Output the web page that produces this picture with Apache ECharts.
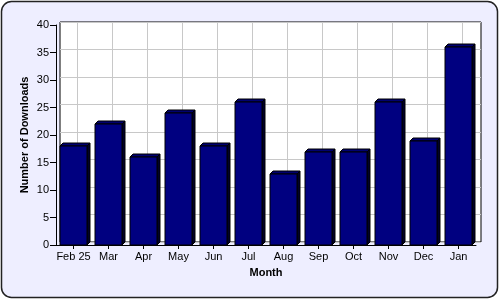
<!DOCTYPE html>
<html><head><meta charset="utf-8">
<script src="https://cdn.jsdelivr.net/npm/echarts@6/dist/echarts.min.js"></script>
<style>html,body{margin:0;padding:0;background:#fff}#c{width:500px;height:300px}</style>
</head><body><div id="c"></div>
<script>
const categories = ['Feb 25','Mar','Apr','May','Jun','Jul','Aug','Sep','Oct','Nov','Dec','Jan'];
const downloads = [18,22,16,24,18,26,13,17,17,26,19,36];
const yMin = 0, yMax = 40, yStep = 5;
const xTitle = 'Month', yTitle = 'Number of Downloads';

const FONT = '"Liberation Sans", Arial, sans-serif';
const chart = echarts.init(document.getElementById('c'), null, {renderer:'canvas'});
const depth = 3;
chart.setOption({
  backgroundColor: 'transparent',
  animation: false,
  graphic: [{type:'rect', z:-10, silent:true, shape:{x:1.5,y:1.5,width:496,height:296,r:10},
    style:{fill:'#EEEEFF', stroke:'#222', lineWidth:1.5}}],
  grid: [
    {left:60, right:19, top:22, bottom:58, show:true, backgroundColor:'#fff', borderColor:'#000', borderWidth:1},
    {left:77.5, right:37.5, top:22, bottom:58},
    {left:56, right:24, top:25, bottom:55}
  ],
  xAxis: [
    {gridIndex:0, type:'category', data:categories, show:false},
    {gridIndex:1, type:'category', data:categories, boundaryGap:false,
      axisLine:{show:false}, axisTick:{show:false}, axisLabel:{show:false},
      splitLine:{show:true, interval:0, lineStyle:{color:'#C8C8C8', width:1}}},
    {gridIndex:2, type:'category', data:categories, boundaryGap:true,
      axisLine:{show:true, lineStyle:{color:'#000', width:1}},
      axisTick:{show:true, alignWithLabel:true, interval:0, length:4, lineStyle:{color:'#000'}},
      axisLabel:{color:'#000', fontFamily:FONT, fontSize:11, margin:6, interval:0},
      name:xTitle, nameLocation:'middle', nameGap:22,
      nameTextStyle:{color:'#000', fontFamily:FONT, fontSize:11, fontWeight:'bold'}}
  ],
  yAxis: [
    {gridIndex:0, type:'value', min:yMin, max:yMax, interval:yStep,
      axisLine:{show:false}, axisTick:{show:false}, axisLabel:{show:false},
      splitLine:{show:true, lineStyle:{color:'#C8C8C8', width:1}}},
    {gridIndex:1, type:'value', min:yMin, max:yMax, interval:yStep, show:false, splitLine:{show:false}},
    {gridIndex:2, type:'value', min:yMin, max:yMax, interval:yStep,
      axisLine:{show:true, lineStyle:{color:'#000', width:1}},
      axisTick:{show:true, length:6, lineStyle:{color:'#000'}},
      axisLabel:{color:'#000', fontFamily:FONT, fontSize:11, margin:7},
      splitLine:{show:false},
      name:yTitle, nameLocation:'middle', nameGap:26, nameMoveOverlap:false,
      nameTextStyle:{color:'#000', fontFamily:FONT, fontSize:11, fontWeight:'bold'}}
  ],
  series: [{
    type:'custom', xAxisIndex:2, yAxisIndex:2,
    data: downloads.map((v,i)=>[i,v]),
    encode:{x:0, y:1},
    renderItem: function(params, api){
      const top = api.coord([api.value(0), api.value(1)]);
      const base = api.coord([api.value(0), 0]);
      const w = api.size([1,0])[0]*0.75;
      const x0 = Math.round(top[0]-w/2), x1 = Math.round(top[0]+w/2);
      const yt = Math.round(top[1]), yb = Math.round(base[1]);
      const d = depth;
      return {type:'group', children:[
        {type:'polygon', shape:{points:[[x1,yt],[x1+d,yt-d],[x1+d,yb-d],[x1,yb]]},
          style:{fill:'#00002A', stroke:'#000', lineWidth:1}},
        {type:'polygon', shape:{points:[[x0,yt],[x0+d,yt-d],[x1+d,yt-d],[x1,yt]]},
          style:{fill:'#000070', stroke:'#000', lineWidth:1}},
        {type:'rect', shape:{x:x0, y:yt, width:x1-x0, height:yb-yt},
          style:{fill:'#000080', stroke:'#000', lineWidth:1}}
      ]};
    }
  }]
});
</script></body></html>
